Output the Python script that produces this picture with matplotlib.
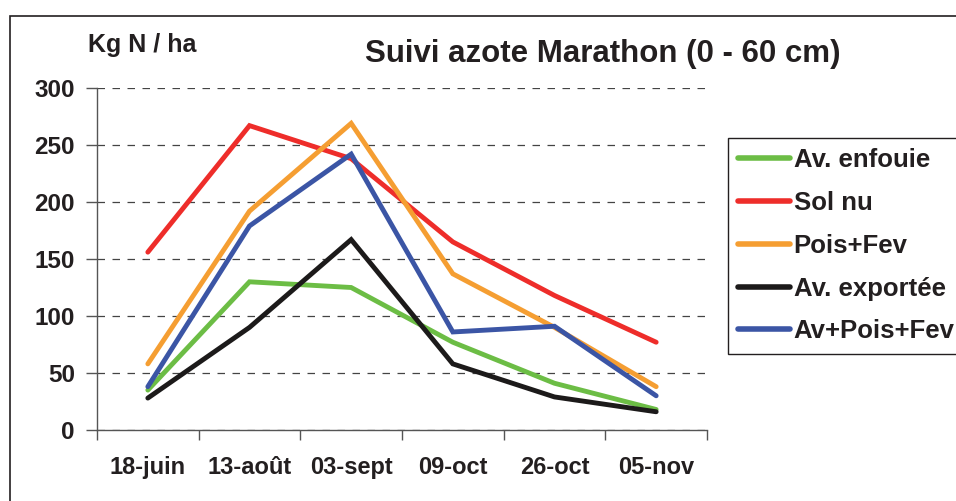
import matplotlib
matplotlib.use("Agg")
import matplotlib.pyplot as plt
from matplotlib.patches import Rectangle

plt.rcParams["font.family"] = ["Liberation Sans", "DejaVu Sans"]
plt.rcParams["font.weight"] = "bold"

# ---- data ------------------------------------------------------------------
dates = ["18-juin", "13-août", "03-sept", "09-oct", "26-oct", "05-nov"]
av_enfouie = [35, 130, 125, 77, 41, 18]
sol_nu = [156, 267, 238, 165, 118, 77]
pois_fev = [58, 192, 269, 137, 90, 38]
av_exportee = [28, 90, 167, 58, 29, 16]
av_pois_fev = [38, 179, 242, 86, 91, 30]

SERIES = [
    ("Av. enfouie", av_enfouie, "#6cbd45"),
    ("Sol nu", sol_nu, "#ee2d2a"),
    ("Pois+Fev", pois_fev, "#f59e32"),
    ("Av. exportée", av_exportee, "#1c1a1a"),
    ("Av+Pois+Fev", av_pois_fev, "#3b55a5"),
]
TXT = "#231f20"
FS = 17

fig = plt.figure(figsize=(9.56, 5.01), dpi=100)
# outer chart border (runs off the right/bottom edge like the reference)
fig.patches.append(Rectangle((10 / 956, -0.1), 1.2, 1 - 16 / 501 + 0.1,
                             transform=fig.transFigure, fill=False,
                             edgecolor=TXT, linewidth=1.2))

ax = fig.add_axes([97 / 956, 1 - 430 / 501, 610 / 956, 342 / 501])
x = list(range(len(dates)))
for name, vals, col in SERIES:
    ax.plot(x, vals, color=col, linewidth=3.5, label=name,
            solid_capstyle="round", solid_joinstyle="miter")

ax.set_xlim(-0.5, len(dates) - 0.5)
ax.set_ylim(0, 300)
ax.set_yticks(range(0, 301, 50))
ax.set_xticks(x)
ax.set_xticklabels(dates)
ax.set_xticks([i - 0.5 for i in range(len(dates) + 1)], minor=True)
ax.tick_params(axis="x", which="major", length=0, pad=19, labelsize=FS,
               labelcolor=TXT)
ax.tick_params(axis="x", which="minor", length=7, width=1, color="#555555")
ax.tick_params(axis="y", length=8, width=1, color="#555555", pad=8,
               labelsize=FS + 0.5, labelcolor=TXT)
for lab in ax.get_xticklabels() + ax.get_yticklabels():
    lab.set_fontweight("bold")

ax.grid(axis="y", linestyle=(0, (6, 6)), color="#444444", linewidth=0.9)
ax.set_axisbelow(True)
for s in ("top", "right"):
    ax.spines[s].set_visible(False)
for s in ("left", "bottom"):
    ax.spines[s].set_color("#555555")
    ax.spines[s].set_linewidth(1)

fig.text(88 / 956, 1 - 45 / 501, "Kg N / ha", fontsize=18, fontweight="bold",
         color=TXT, ha="left", va="center")
fig.text(603 / 956, 1 - 54 / 501, "Suivi azote Marathon (0 - 60 cm)",
         fontsize=22.5, fontweight="bold", color=TXT, ha="center", va="center")

# legend box runs off the right edge, as in the reference
leg_top = 1 - 138 / 501
leg = ax.legend(loc="upper left",
                bbox_to_anchor=(728 / 956, leg_top - 0.5, 0.3, 0.5),
                mode="expand", bbox_transform=fig.transFigure, borderaxespad=0,
                fancybox=False, framealpha=1, edgecolor=TXT,
                prop={"size": 18.5, "weight": "bold"}, handlelength=2.0,
                handletextpad=0.15, labelspacing=0.73, borderpad=0.4,
                labelcolor=TXT)
leg.get_frame().set_linewidth(1)
for h in leg.get_lines():
    h.set_linewidth(4)

fig.savefig("out.png", dpi=100)
